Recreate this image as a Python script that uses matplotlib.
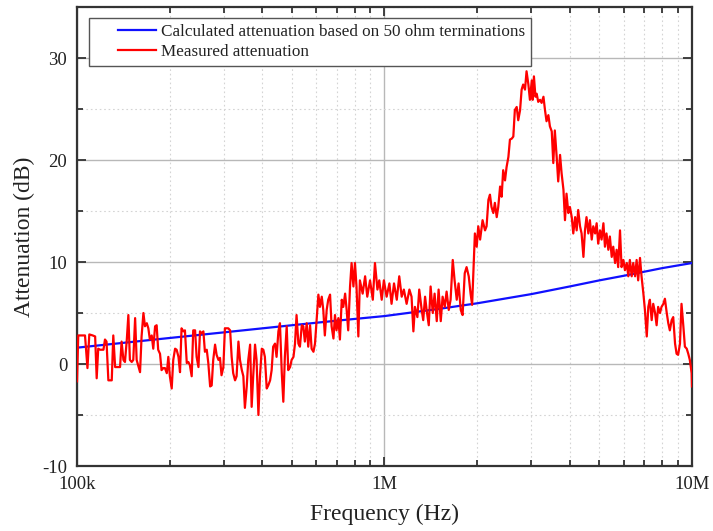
import numpy as np
import matplotlib
matplotlib.use("Agg")
import matplotlib.pyplot as plt
from matplotlib.ticker import FixedLocator, FixedFormatter, MultipleLocator, NullFormatter
from matplotlib.legend_handler import HandlerLine2D

# Calculated attenuation (50 ohm terminations)
calc_freq_hz = [1e5, 2e5, 3e5, 5e5, 7e5, 1e6, 1.5e6, 2e6, 3e6, 4e6, 5e6, 6e6, 7e6, 8e6, 1e7]
calc_db = [1.6, 2.55, 3.1, 3.8, 4.25, 4.7, 5.4, 5.95, 6.85, 7.6, 8.2, 8.65, 9.05, 9.4, 9.9]

# Measured attenuation: sweep points as log10(frequency / Hz)
meas_log10_hz = [
    5.000, 5.004, 5.015, 5.026, 5.034, 5.040, 5.051, 5.059, 5.064, 5.069,
    5.075, 5.086, 5.091, 5.096, 5.102, 5.113, 5.118, 5.124, 5.129, 5.140,
    5.145, 5.151, 5.156, 5.162, 5.167, 5.172, 5.178, 5.183, 5.189, 5.194,
    5.205, 5.210, 5.216, 5.221, 5.227, 5.232, 5.237, 5.243, 5.248, 5.254,
    5.259, 5.264, 5.270, 5.275, 5.281, 5.286, 5.292, 5.297, 5.302, 5.308,
    5.313, 5.319, 5.324, 5.330, 5.335, 5.340, 5.346, 5.351, 5.357, 5.362,
    5.367, 5.373, 5.378, 5.384, 5.389, 5.395, 5.400, 5.405, 5.411, 5.416,
    5.422, 5.427, 5.433, 5.438, 5.443, 5.449, 5.454, 5.460, 5.465, 5.470,
    5.476, 5.481, 5.487, 5.492, 5.498, 5.503, 5.508, 5.514, 5.519, 5.525,
    5.530, 5.536, 5.541, 5.546, 5.552, 5.557, 5.563, 5.568, 5.573, 5.579,
    5.584, 5.590, 5.595, 5.601, 5.606, 5.611, 5.617, 5.622, 5.628, 5.633,
    5.638, 5.644, 5.649, 5.655, 5.660, 5.666, 5.671, 5.676, 5.682, 5.687,
    5.693, 5.698, 5.704, 5.709, 5.714, 5.720, 5.725, 5.731, 5.736, 5.741,
    5.747, 5.752, 5.758, 5.763, 5.769, 5.774, 5.779, 5.785, 5.790, 5.796,
    5.801, 5.806, 5.812, 5.817, 5.823, 5.828, 5.834, 5.839, 5.844, 5.850,
    5.855, 5.861, 5.866, 5.872, 5.877, 5.882, 5.888, 5.893, 5.899, 5.904,
    5.909, 5.915, 5.920, 5.929, 5.937, 5.944, 5.953, 5.962, 5.969, 5.977,
    5.983, 5.991, 5.998, 6.007, 6.016, 6.023, 6.031, 6.040, 6.048, 6.056,
    6.063, 6.072, 6.081, 6.088, 6.094, 6.099, 6.107, 6.113, 6.121, 6.126,
    6.132, 6.137, 6.144, 6.150, 6.157, 6.163, 6.170, 6.176, 6.183, 6.189,
    6.196, 6.202, 6.209, 6.215, 6.222, 6.228, 6.235, 6.241, 6.248, 6.254,
    6.261, 6.267, 6.274, 6.280, 6.285, 6.289, 6.294, 6.300, 6.305, 6.311,
    6.319, 6.327, 6.332, 6.338, 6.343, 6.348, 6.354, 6.359, 6.365, 6.370,
    6.376, 6.381, 6.386, 6.392, 6.397, 6.403, 6.408, 6.414, 6.419, 6.424,
    6.430, 6.435, 6.441, 6.446, 6.451, 6.457, 6.462, 6.468, 6.473, 6.479,
    6.482, 6.486, 6.491, 6.495, 6.500, 6.506, 6.511, 6.517, 6.522, 6.527,
    6.533, 6.538, 6.544, 6.549, 6.554, 6.560, 6.565, 6.571, 6.576, 6.582,
    6.587, 6.592, 6.598, 6.603, 6.609, 6.614, 6.620, 6.625, 6.630, 6.636,
    6.641, 6.647, 6.652, 6.657, 6.663, 6.668, 6.674, 6.679, 6.685, 6.690,
    6.695, 6.701, 6.706, 6.712, 6.717, 6.722, 6.728, 6.733, 6.739, 6.744,
    6.750, 6.755, 6.760, 6.766, 6.771, 6.777, 6.782, 6.788, 6.793, 6.798,
    6.804, 6.809, 6.815, 6.820, 6.825, 6.831, 6.836, 6.842, 6.847, 6.853,
    6.858, 6.863, 6.869, 6.874, 6.880, 6.885, 6.890, 6.896, 6.901, 6.907,
    6.912, 6.918, 6.923, 6.928, 6.934, 6.939, 6.945, 6.950, 6.955, 6.961,
    6.966, 6.972, 6.977, 6.983, 6.988, 6.993, 6.999, 7.000,
]
meas_db = [
    -1.7, 2.8, 2.8, 2.8, -0.4, 2.9, 2.8, 2.7, -1.4, 1.5,
    1.4, 1.4, 2.4, 2.2, -1.6, -1.6, 2.8, -0.3, -0.3, -0.3,
    2.2, 0.4, 0.2, 2.4, 4.8, 0.4, 0.2, 0.4, 4.5, 0.4,
    -0.8, 2.7, 5.0, 3.7, 4.0, 3.5, 2.4, 2.8, 1.5, 3.7,
    3.8, 1.4, 1.0, -0.6, -0.4, -0.4, -0.9, 0.7, -1.2, -2.4,
    0.4, 1.5, 1.4, 0.7, -0.8, 3.5, 3.2, 3.3, 0.1, 0.2,
    -0.1, -1.2, 3.3, 3.3, 0.7, -0.3, 3.2, 3.0, 3.2, 1.2,
    1.4, 0.1, -2.2, -2.1, 0.4, 1.9, 0.9, 0.4, 0.6, -1.1,
    -0.3, 3.5, 3.5, 3.5, 3.3, 0.7, -0.9, -1.6, -1.2, 2.2,
    0.4, -0.6, -1.2, -4.3, -2.2, 0.4, 1.9, -4.2, -1.2, 1.9,
    0.4, -5.0, -1.2, 1.5, 1.4, 0.7, -2.4, -2.1, -1.6, -0.6,
    1.7, 2.0, 0.7, 3.2, 4.0, -0.9, -3.7, 0.7, 3.7, -0.6,
    -0.3, 0.4, 0.7, 2.0, 4.8, 2.0, 1.7, 3.8, 3.7, 2.2,
    4.0, 1.7, 3.8, 1.5, 1.2, 2.0, 4.2, 6.8, 5.6, 6.6,
    5.3, 2.8, 5.3, 6.3, 6.8, 3.7, 2.5, 4.8, 3.3, 4.5,
    2.4, 6.3, 5.6, 6.9, 5.3, 3.3, 7.6, 9.9, 7.6, 9.9,
    7.6, 2.7, 8.2, 6.9, 8.6, 6.6, 8.2, 6.3, 9.9, 7.3,
    8.2, 6.3, 8.2, 6.6, 7.9, 5.9, 7.9, 6.3, 8.6, 6.6,
    7.3, 5.9, 7.3, 6.6, 3.2, 5.6, 4.6, 7.3, 5.3, 4.3,
    6.6, 5.3, 3.8, 7.6, 5.0, 6.9, 4.2, 7.3, 4.2, 6.6,
    5.6, 7.1, 5.3, 6.3, 10.2, 8.2, 6.3, 7.9, 5.3, 4.8,
    8.9, 9.5, 8.6, 6.9, 5.8, 9.0, 12.8, 11.5, 13.5, 12.2,
    14.1, 13.1, 13.5, 16.1, 16.6, 15.4, 14.8, 15.8, 14.4, 15.4,
    17.4, 16.4, 19.0, 18.0, 19.3, 20.3, 22.0, 22.1, 22.3, 24.9,
    25.2, 23.9, 24.9, 26.9, 27.4, 26.9, 28.7, 27.4, 25.9, 27.8,
    25.9, 28.2, 26.2, 26.5, 25.7, 25.9, 25.6, 26.2, 24.9, 23.8,
    24.4, 23.3, 22.8, 19.7, 22.9, 20.3, 17.9, 20.5, 18.7, 17.1,
    14.1, 16.7, 14.8, 15.4, 14.4, 12.8, 14.4, 13.1, 15.1, 13.5,
    12.8, 10.5, 13.1, 14.4, 12.8, 14.1, 12.2, 13.5, 12.8, 13.8,
    11.8, 13.1, 12.2, 13.8, 11.5, 12.8, 11.2, 12.5, 10.5, 11.5,
    9.9, 11.2, 9.5, 13.1, 9.5, 10.2, 9.2, 9.9, 8.6, 10.2,
    8.6, 9.9, 8.6, 10.2, 8.2, 10.4, 8.6, 6.9, 5.3, 2.7,
    5.6, 6.3, 4.3, 5.9, 5.0, 3.8, 5.6, 5.0, 5.6, 5.9,
    6.4, 5.0, 4.0, 3.3, 4.3, 4.6, 2.0, 1.0, 0.9, 2.0,
    5.9, 3.7, 1.7, 1.5, 1.0, 0.4, -0.9, -2.2,
]

x_tick_values = [1e5, 1e6, 1e7]
x_tick_labels = ["100k", "1M", "10M"]
y_tick_values = [-10, 0, 10, 20, 30]

plt.rcParams["font.family"] = ["Liberation Serif", "DejaVu Serif"]
plt.rcParams["axes.unicode_minus"] = False

fig = plt.figure(figsize=(7.13, 5.31), dpi=100)
ax = fig.add_axes([0.108, 0.1224, 0.8625, 0.8644])

meas_freq_hz = 10 ** np.asarray(meas_log10_hz)

ax.plot(calc_freq_hz, calc_db, color="#1010ff", lw=1.6,
        label="Calculated attenuation based on 50 ohm terminations", zorder=3)
ax.plot(meas_freq_hz, meas_db, color="#ff0000", lw=1.6,
        label="Measured attenuation", zorder=4)

ax.set_xscale("log")
ax.set_xlim(1e5, 1e7)
ax.set_ylim(-10, 35)

ax.xaxis.set_major_locator(FixedLocator(x_tick_values))
ax.xaxis.set_major_formatter(FixedFormatter(x_tick_labels))
ax.xaxis.set_minor_locator(FixedLocator(
    [m * d for d in (1e5, 1e6) for m in range(2, 10)]))
ax.xaxis.set_minor_formatter(NullFormatter())
ax.yaxis.set_major_locator(FixedLocator(y_tick_values))
ax.yaxis.set_minor_locator(MultipleLocator(5))

ax.grid(True, which="major", color="#b8b8b8", lw=1.0, ls="-", zorder=0)
ax.grid(True, which="minor", color="#d4d4d4", lw=0.8, ls=(0, (1.5, 2.5)), zorder=0)
ax.set_axisbelow(True)

ax.tick_params(which="both", direction="in", top=True, right=True,
               colors="#333333", labelcolor="#222222", width=1.3)
ax.tick_params(which="major", length=6.5, labelsize=13.5, pad=7)
ax.tick_params(which="minor", length=4)
for sp in ax.spines.values():
    sp.set_color("#333333")
    sp.set_linewidth(1.6)

ax.set_xlabel("Frequency (Hz)", fontsize=17, color="#222222")
ax.set_ylabel("Attenuation (dB)", fontsize=17, color="#222222")
ax.xaxis.set_label_coords(0.5, -0.082)
ax.yaxis.set_label_coords(-0.068, 0.5)

fs = 12.3
leg = ax.legend(loc="upper left", bbox_to_anchor=(0.0195, 0.976), borderaxespad=0,
                fontsize=fs, frameon=True, fancybox=False, borderpad=0.35,
                handlelength=3.56, handletextpad=0.3, labelspacing=0.25,
                handler_map={plt.Line2D: HandlerLine2D(xpad=1.34)})
leg.get_frame().set_edgecolor("#555555")
leg.get_frame().set_linewidth(1.0)
leg.get_frame().set_facecolor("white")
leg.get_frame().set_alpha(1.0)
for t in leg.get_texts():
    t.set_color("#222222")

fig.savefig("out.png", dpi=100)
